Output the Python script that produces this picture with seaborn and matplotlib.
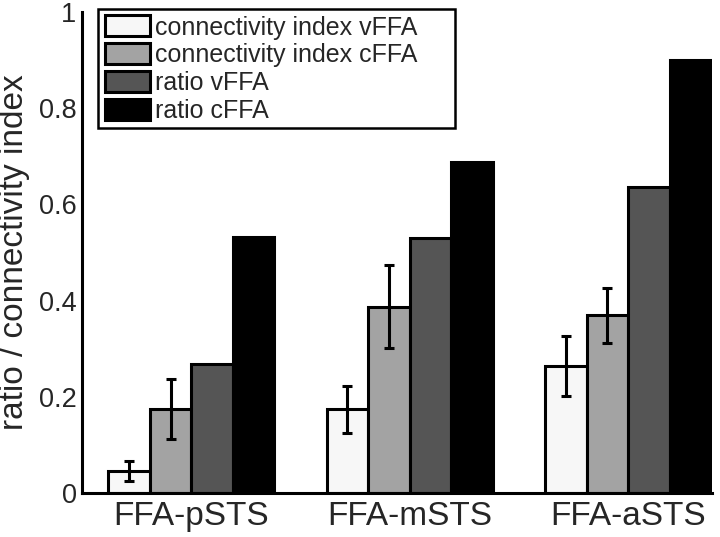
import pandas as pd
import numpy as np
import matplotlib
matplotlib.use("Agg")
import matplotlib.pyplot as plt
from matplotlib.patches import Rectangle
import seaborn as sns

# values
regions = ['FFA-pSTS', 'FFA-mSTS', 'FFA-aSTS']
series = ['connectivity index vFFA', 'connectivity index cFFA', 'ratio vFFA', 'ratio cFFA']
ci_vffa = [0.046, 0.174, 0.264]
ci_cffa = [0.174, 0.387, 0.369]
ratio_vffa = [0.268, 0.530, 0.635]
ratio_cffa = [0.532, 0.688, 0.899]
err_ci_vffa = [0.021, 0.049, 0.062]
err_ci_cffa = [0.062, 0.086, 0.058]
colors = ['#f7f7f7', '#a3a3a3', '#555555', '#000000']

sns.set_style('white')
plt.rcParams['font.family'] = ['Liberation Sans', 'DejaVu Sans']

df = pd.DataFrame({
    'region': regions * 4,
    'series': np.repeat(series, 3),
    'value': ci_vffa + ci_cffa + ratio_vffa + ratio_cffa,
})

fig = plt.figure(figsize=(7.2, 5.37), dpi=100)
ax = fig.add_axes([0.114, 0.082, 0.875, 0.896])

sns.barplot(data=df, x='region', y='value', hue='series', hue_order=series,
            order=regions, palette=colors, edgecolor='black', linewidth=2.2,
            width=0.76, errorbar=None, ax=ax)

# error bars on the connectivity index bars
errs = {series[0]: err_ci_vffa, series[1]: err_ci_cffa}
for cont, name in zip(ax.containers, series):
    if name not in errs:
        continue
    for bar, e in zip(cont, errs[name]):
        xc = bar.get_x() + bar.get_width() / 2
        ax.errorbar(xc, bar.get_height(), yerr=e, fmt='none', ecolor='black',
                    elinewidth=2.2, capsize=3.5, capthick=2.2, zorder=5)

ax.set_ylim(0, 1)
ax.set_xlim(-0.5, 2.384)
ax.set_yticks([0, 0.2, 0.4, 0.6, 0.8, 1])
ax.set_yticklabels(['0', '0.2', '0.4', '0.6', '0.8', '1'])
ax.tick_params(axis='y', labelsize=19.5, length=0, pad=4)
ax.tick_params(axis='x', labelsize=24, length=0, pad=6)
ax.set_xlabel('')
ax.set_ylabel('ratio / connectivity index', fontsize=24, labelpad=6)

for s in ['top', 'right']:
    ax.spines[s].set_visible(False)
for s in ['left', 'bottom']:
    ax.spines[s].set_linewidth(2.2)
    ax.spines[s].set_color('black')

# legend entries without frame, box drawn separately (matlab-style wide box)
leg = ax.legend(loc='upper left', bbox_to_anchor=(0.1425, 0.976),
                bbox_transform=fig.transFigure, fontsize=18, frameon=False,
                borderpad=0.1, labelspacing=0.15, handlelength=1.8,
                handleheight=0.92, handletextpad=0.2, borderaxespad=0)
for h in leg.legend_handles:
    h.set_linewidth(2.2)
fig.patches.append(Rectangle((98 / 720, 1 - 128 / 537), 357 / 720, 119 / 537,
                             transform=fig.transFigure, fill=False,
                             edgecolor='black', linewidth=1.8, zorder=10))

fig.savefig('out.png', dpi=100)
